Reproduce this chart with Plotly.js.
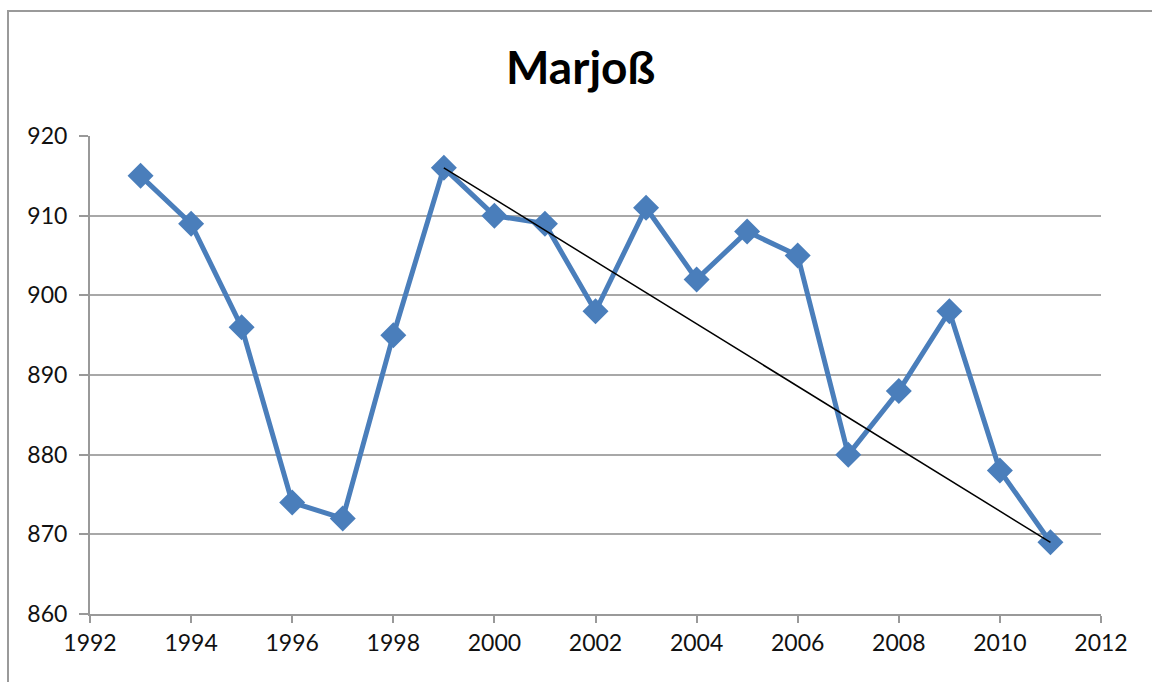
<!DOCTYPE html>
<html>
<head>
<meta charset="utf-8">
<script src="https://cdn.plot.ly/plotly-3.0.1.min.js"></script>
<style>
html,body{margin:0;padding:0;background:#fff;}
#wrap{position:relative;width:1152px;height:682px;overflow:hidden;}
#chart{width:1152px;height:682px;}
#frame{position:absolute;left:7px;top:10px;width:1200px;height:800px;border-left:2px solid #9a9a9a;border-top:2px solid #9a9a9a;pointer-events:none;}
</style>
</head>
<body>
<div id="wrap"><div id="chart"></div><div id="frame"></div></div>
<script>
const years = [1993,1994,1995,1996,1997,1998,1999,2000,2001,2002,2003,2004,2005,2006,2007,2008,2009,2010,2011];
const values = [915,909,896,874,872,895,916,910,909,898,911,902,908,905,880,888,898,878,869];
const trendYears = [1999,2011];
const trendValues = [916,869];
const xTicks = [1992,1994,1996,1998,2000,2002,2004,2006,2008,2010,2012];
const yTicks = [860,870,880,890,900,910,920];
const titleText = "Marjoß";

const fontFam = "Lato, 'Open Sans', sans-serif";

const data = [
  {x: years, y: values, type:'scatter', mode:'lines+markers',
   line:{color:'#4a7ebb', width:5},
   marker:{symbol:'diamond', size:20, color:'#4a7ebb'},
   hoverinfo:'skip'},
  {x: trendYears, y: trendValues, type:'scatter', mode:'lines',
   line:{color:'#000000', width:1.5}, hoverinfo:'skip'}
];

const layout = {
  width:1152, height:682,
  paper_bgcolor:'#ffffff', plot_bgcolor:'#ffffff',
  showlegend:false,
  margin:{l:90, r:51, t:136, b:68},
  title:{text:'<b>'+titleText+'</b>', x:0.504, xanchor:'center', y:0.9, yanchor:'middle',
         font:{family:fontFam, size:46, color:'#000'}},
  xaxis:{range:[1992,2012], tickvals:xTicks, ticktext:xTicks.map(String),
         showgrid:false, zeroline:false, showline:true, linecolor:'#999999', linewidth:2,
         ticks:'outside', ticklen:7, tickwidth:2, tickcolor:'#999999',
         tickfont:{family:fontFam, size:23, color:'#111'}},
  yaxis:{range:[860,920], tickvals:yTicks, ticktext:yTicks.map(String),
         showgrid:true, gridcolor:'#a8a8a8', gridwidth:2, zeroline:false,
         showline:true, linecolor:'#999999', linewidth:2,
         ticks:'outside', ticklen:9, tickwidth:2, tickcolor:'#999999',
         ticklabelstandoff:7,
         tickfont:{family:fontFam, size:23, color:'#111'}}
};

Plotly.newPlot('chart', data, layout, {displayModeBar:false, staticPlot:true});
</script>
</body>
</html>
